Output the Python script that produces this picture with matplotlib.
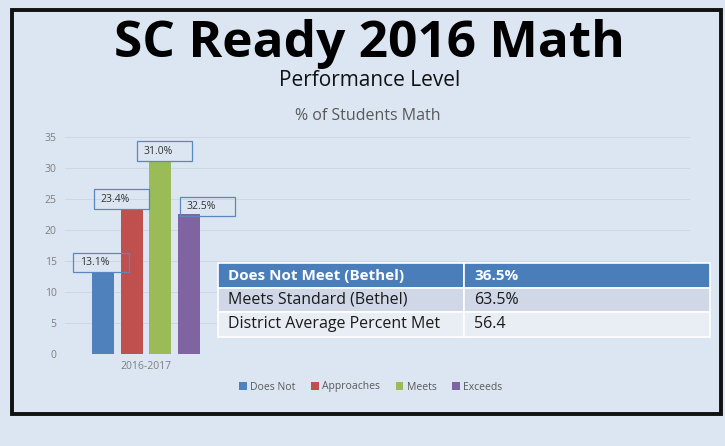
import matplotlib
matplotlib.use("Agg")
import matplotlib.pyplot as plt
from matplotlib import font_manager as fm
from matplotlib.patches import Rectangle
from matplotlib.transforms import Affine2D, ScaledTranslation

# ---- data ----
categories = ["2016-2017"]
series_names = ["Does Not", "Approaches", "Meets", "Exceeds"]
series_values = [13.1, 23.4, 31.0, 22.6]
data_labels = ["13.1%", "23.4%", "31.0%", "32.5%"]
table_rows = ["Does Not Meet (Bethel)", "Meets Standard (Bethel)", "District Average Percent Met"]
table_vals = ["36.5%", "63.5%", "56.4"]
yticks = [0, 5, 10, 15, 20, 25, 30, 35]

# ---- styles ----
colors = ["#4f81bd", "#c0504d", "#9bbb59", "#8064a2"]
BG = "#dce6f2"
label_dx = [-30, -38, -23.5, -9]      # px offsets of label boxes from bar-top center
label_dy = [0.5, 0.3, 1.0, -2.7]
W, H = 725, 446

plt.rcParams['font.family'] = ['Open Sans', 'DejaVu Sans']


def find_font(name, weight):
    best = None
    for f in fm.fontManager.ttflist:
        if f.name == name and f.style == "normal" and f.stretch in ("normal", 500, "500"):
            w = f.weight if isinstance(f.weight, int) else fm.weight_dict.get(f.weight, 400)
            if best is None or abs(w - weight) < abs(best[0] - weight):
                best = (w, f.fname)
    if best is not None and abs(best[0] - weight) <= 100:
        return fm.FontProperties(fname=best[1])
    return None


bold_fp = find_font("Open Sans", 700)
if bold_fp is None:
    bold_fp = fm.FontProperties(family="DejaVu Sans", weight="bold")

fig = plt.figure(figsize=(W / 100, H / 100), dpi=100)
fig.patch.set_facecolor(BG)

# outer black frame
fig.patches.append(Rectangle((12 / W, 1 - 414 / H), (721 - 12) / W, (414 - 10) / H,
                             transform=fig.transFigure, fill=False, lw=2.8,
                             edgecolor="#111111", zorder=0))

# titles
tfp = bold_fp.copy()
tfp.set_size(37)
fig.text(369 / W, 1 - 56.7 / H, "SC Ready 2016 Math", ha="center", va="baseline",
         fontproperties=tfp, color="#000000")
fig.text(370 / W, 1 - 80 / H, "Performance Level", ha="center", va="center",
         fontsize=15, color="#111111")
fig.text(368 / W, 1 - 116 / H, "% of Students Math", ha="center", va="center",
         fontsize=11.5, color="#595959")

# bar chart axes
ax_l, ax_r, ax_b, ax_t = 65, 690, 354.3, 136.7
ax = fig.add_axes([ax_l / W, 1 - ax_b / H, (ax_r - ax_l) / W, (ax_b - ax_t) / H])
ax.set_facecolor("none")
for s in ax.spines.values():
    s.set_visible(False)
ax.set_ylim(0, 35)
ax.set_yticks(yticks)
ax.yaxis.grid(True, color="#cdd6e2", lw=0.7)
ax.set_axisbelow(True)
ax.tick_params(axis="both", length=0, labelsize=7.5, colors="#7f7f7f")
ax.tick_params(axis="y", pad=6)

bw, pitch = 0.2, 0.25
px_per_unit = 114.0
ax.set_xlim(-(146 - ax_l) / px_per_unit, -(146 - ax_l) / px_per_unit + (ax_r - ax_l) / px_per_unit)
ax.set_xticks([0])
ax.set_xticklabels(categories)
ax.tick_params(axis="x", pad=5)

bars = []
for i, (name, v) in enumerate(zip(series_names, series_values)):
    x = (i - 1.5) * pitch
    b = ax.bar([x], [v], width=bw * 0.97, color=colors[i], label=name, zorder=2)
    bars.append(b)
    t = Affine2D().translate(label_dx[i], label_dy[i]) + ScaledTranslation(x, v, ax.transData)
    ax.add_patch(Rectangle((0, 0), 55.5, 19.5, transform=t, fill=False,
                           edgecolor="#5b86c0", lw=0.9, zorder=3, clip_on=False))
    ax.text(7, 9.5, data_labels[i], transform=t, ha="left", va="center",
            fontsize=7.5, color="#333333", zorder=4)

leg = fig.legend(handles=[b[0] for b in bars], labels=series_names, loc="center",
                 bbox_to_anchor=(371 / W, 1 - 387 / H), ncol=4, frameon=False,
                 fontsize=7.5, handlelength=0.7, handleheight=0.7, handletextpad=0.35,
                 columnspacing=1.5, labelcolor="#595959")

# table
tl, tr, tt, tb = 218.3, 710, 263.3, 336.7
tax = fig.add_axes([tl / W, 1 - tb / H, (tr - tl) / W, (tb - tt) / H])
tax.axis("off")
cell_text = [[r, v] for r, v in zip(table_rows, table_vals)]
row_colors = ["#4a7ebb", "#d0d8e8", "#e9edf4"]
tbl = tax.table(cellText=cell_text, cellLoc="left", bbox=[0, 0, 1, 1],
                cellColours=[[c, c] for c in row_colors])
tbl.auto_set_font_size(False)
for (r, c), cell in tbl.get_celld().items():
    cell.set_edgecolor("#ffffff")
    cell.set_linewidth(1.2)
    cell.PAD = 0.04
    txt = cell.get_text()
    if r == 0:
        hfp = bold_fp.copy()
        hfp.set_size(11)
        txt.set_fontproperties(hfp)
        txt.set_color("white")
    else:
        txt.set_fontsize(11.5)
        txt.set_color("#1a1a1a")

fig.savefig("out.png", dpi=100, facecolor=BG)
